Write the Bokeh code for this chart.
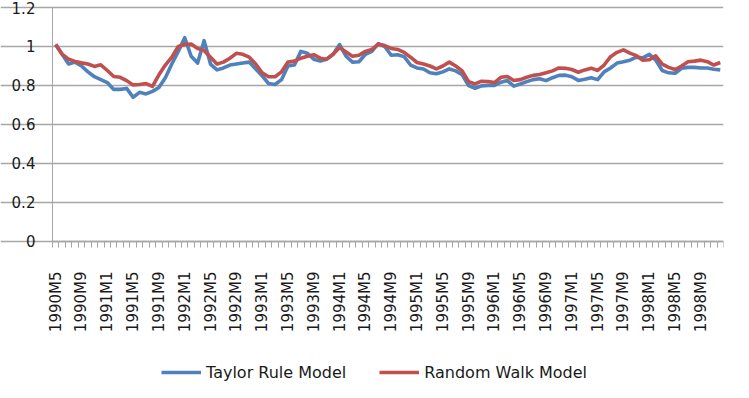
import math
from bokeh.plotting import figure
from bokeh.models import (Range1d, FixedTicker, CustomJSTickFormatter, Legend, LegendItem)
from bokeh.embed import file_html
from bokeh.resources import INLINE

# Categories: monthly, 1990M5 .. 1998M12
months = []
for yr in range(1990, 1999):
    for m in range(1, 13):
        if yr == 1990 and m < 5:
            continue
        months.append(f"{yr}M{m}")

taylor = [1.01, 0.96, 0.91, 0.92, 0.90, 0.87, 0.845, 0.83, 0.815, 0.78,
          0.78, 0.785, 0.74, 0.765, 0.757, 0.77, 0.79, 0.84, 0.91, 0.975,
          1.045, 0.95, 0.915, 1.03, 0.91, 0.88, 0.89, 0.905, 0.91, 0.915,
          0.92, 0.885, 0.85, 0.81, 0.805, 0.83, 0.90, 0.905, 0.975, 0.965,
          0.935, 0.925, 0.935, 0.96, 1.01, 0.95, 0.92, 0.922, 0.96, 0.975,
          1.015, 1.0, 0.955, 0.958, 0.948, 0.905, 0.89, 0.885, 0.865, 0.86,
          0.87, 0.885, 0.875, 0.855, 0.80, 0.786, 0.798, 0.80, 0.80, 0.817,
          0.825, 0.797, 0.808, 0.82, 0.83, 0.835, 0.825, 0.84, 0.852, 0.853,
          0.845, 0.826, 0.832, 0.84, 0.83, 0.87, 0.89, 0.915, 0.922, 0.93,
          0.945, 0.942, 0.96, 0.93, 0.877, 0.865, 0.863, 0.888, 0.893, 0.893,
          0.89, 0.89, 0.883, 0.88]

random_walk = [1.01, 0.96, 0.935, 0.923, 0.916, 0.91, 0.898, 0.906, 0.877, 0.846,
               0.842, 0.825, 0.803, 0.805, 0.81, 0.795, 0.855, 0.905, 0.945, 1.0,
               1.01, 1.013, 0.99, 0.98, 0.945, 0.91, 0.92, 0.94, 0.965, 0.96,
               0.945, 0.91, 0.865, 0.845, 0.845, 0.87, 0.92, 0.925, 0.94, 0.95,
               0.958, 0.94, 0.935, 0.96, 0.995, 0.972, 0.95, 0.955, 0.975, 0.985,
               1.012, 1.005, 0.99, 0.985, 0.97, 0.945, 0.918, 0.91, 0.9, 0.885,
               0.9, 0.92, 0.9, 0.875, 0.82, 0.808, 0.822, 0.82, 0.815, 0.842,
               0.846, 0.826, 0.83, 0.842, 0.852, 0.856, 0.865, 0.875, 0.89, 0.888,
               0.882, 0.868, 0.88, 0.889, 0.877, 0.905, 0.948, 0.97, 0.983, 0.966,
               0.953, 0.93, 0.932, 0.952, 0.91, 0.893, 0.882, 0.9, 0.922, 0.925,
               0.93, 0.922, 0.905, 0.918]

y_ticks = [0, 0.2, 0.4, 0.6, 0.8, 1.0, 1.2]
label_step = 4

n = len(months)
xs = [i + 0.5 for i in range(n)]

FONT = "DejaVu Sans"
GRID = "#a6a6a6"
TEXT = "#1a1a1a"

# The frame covers the whole canvas; both axes are pinned at 0 so that the
# tick labels and the legend can be drawn inside the frame.
Y_AXIS_MAX = 1.2
Y_VIEW_MAX = 1.2359
Y_VIEW_MIN = -0.7231
X_VIEW_MIN = -8.05

p = figure(width=733, height=382, output_backend="svg", toolbar_location=None,
           x_range=Range1d(X_VIEW_MIN, n), y_range=Range1d(Y_VIEW_MIN, Y_VIEW_MAX),
           min_border_left=0, min_border_right=10, min_border_top=0,
           min_border_bottom=0)
p.outline_line_color = None
p.background_fill_color = "white"

r_t = p.line(xs, taylor, line_color="#4F81BD", line_width=3.6, line_join="round")
r_r = p.line(xs, random_walk, line_color="#C0504D", line_width=3.6, line_join="round")

# y axis, pinned at x = 0
p.yaxis.fixed_location = 0
p.yaxis.ticker = FixedTicker(ticks=y_ticks)
p.yaxis.bounds = (0, Y_AXIS_MAX)
p.yaxis.formatter = CustomJSTickFormatter(code="return String(Number(tick.toFixed(1)));")
p.yaxis.major_tick_out = 5
p.yaxis.major_tick_in = 0
p.yaxis.minor_tick_out = 0
p.yaxis.minor_tick_in = 0
p.yaxis.axis_line_color = GRID
p.yaxis.major_tick_line_color = GRID
p.yaxis.major_label_standoff = 12
p.yaxis.major_label_text_font = FONT
p.yaxis.major_label_text_font_size = "15px"
p.yaxis.major_label_text_color = TEXT

# grid
p.ygrid.ticker = FixedTicker(ticks=y_ticks)
p.ygrid.bounds = (0, n)
p.ygrid.grid_line_color = GRID
p.ygrid.grid_line_width = 1.3
p.xgrid.grid_line_color = None

# x axis, pinned at y = 0
p.xaxis.fixed_location = 0
p.xaxis.bounds = (0, n)
p.xaxis.ticker = FixedTicker(ticks=[i + 0.5 for i in range(0, n, label_step)],
                             minor_ticks=list(range(0, n + 1)))
p.xaxis.formatter = CustomJSTickFormatter(args=dict(labels=months),
                                          code="return labels[Math.round(tick - 0.5)];")
p.xaxis.major_tick_out = 0
p.xaxis.major_tick_in = 0
p.xaxis.minor_tick_out = 6
p.xaxis.minor_tick_in = 0
p.xaxis.minor_tick_line_color = GRID
p.xaxis.axis_line_color = GRID
p.xaxis.axis_line_width = 1.3
p.xaxis.major_label_orientation = math.pi / 2
p.xaxis.major_label_standoff = 24
p.xaxis.major_label_text_font = FONT
p.xaxis.major_label_text_font_size = "15px"
p.xaxis.major_label_text_color = TEXT

legend = Legend(items=[LegendItem(label="Taylor Rule Model", renderers=[r_t]),
                       LegendItem(label="Random Walk Model", renderers=[r_r])],
                location=(161, 0), orientation="horizontal",
                padding=0, margin=0, spacing=33, label_standoff=5,
                glyph_width=40, glyph_height=20, label_height=20,
                label_text_font=FONT, label_text_font_size="16px",
                label_text_color=TEXT,
                border_line_color=None, background_fill_alpha=0)
p.add_layout(legend, "center")

open("out.html", "w").write(file_html(p, INLINE))
